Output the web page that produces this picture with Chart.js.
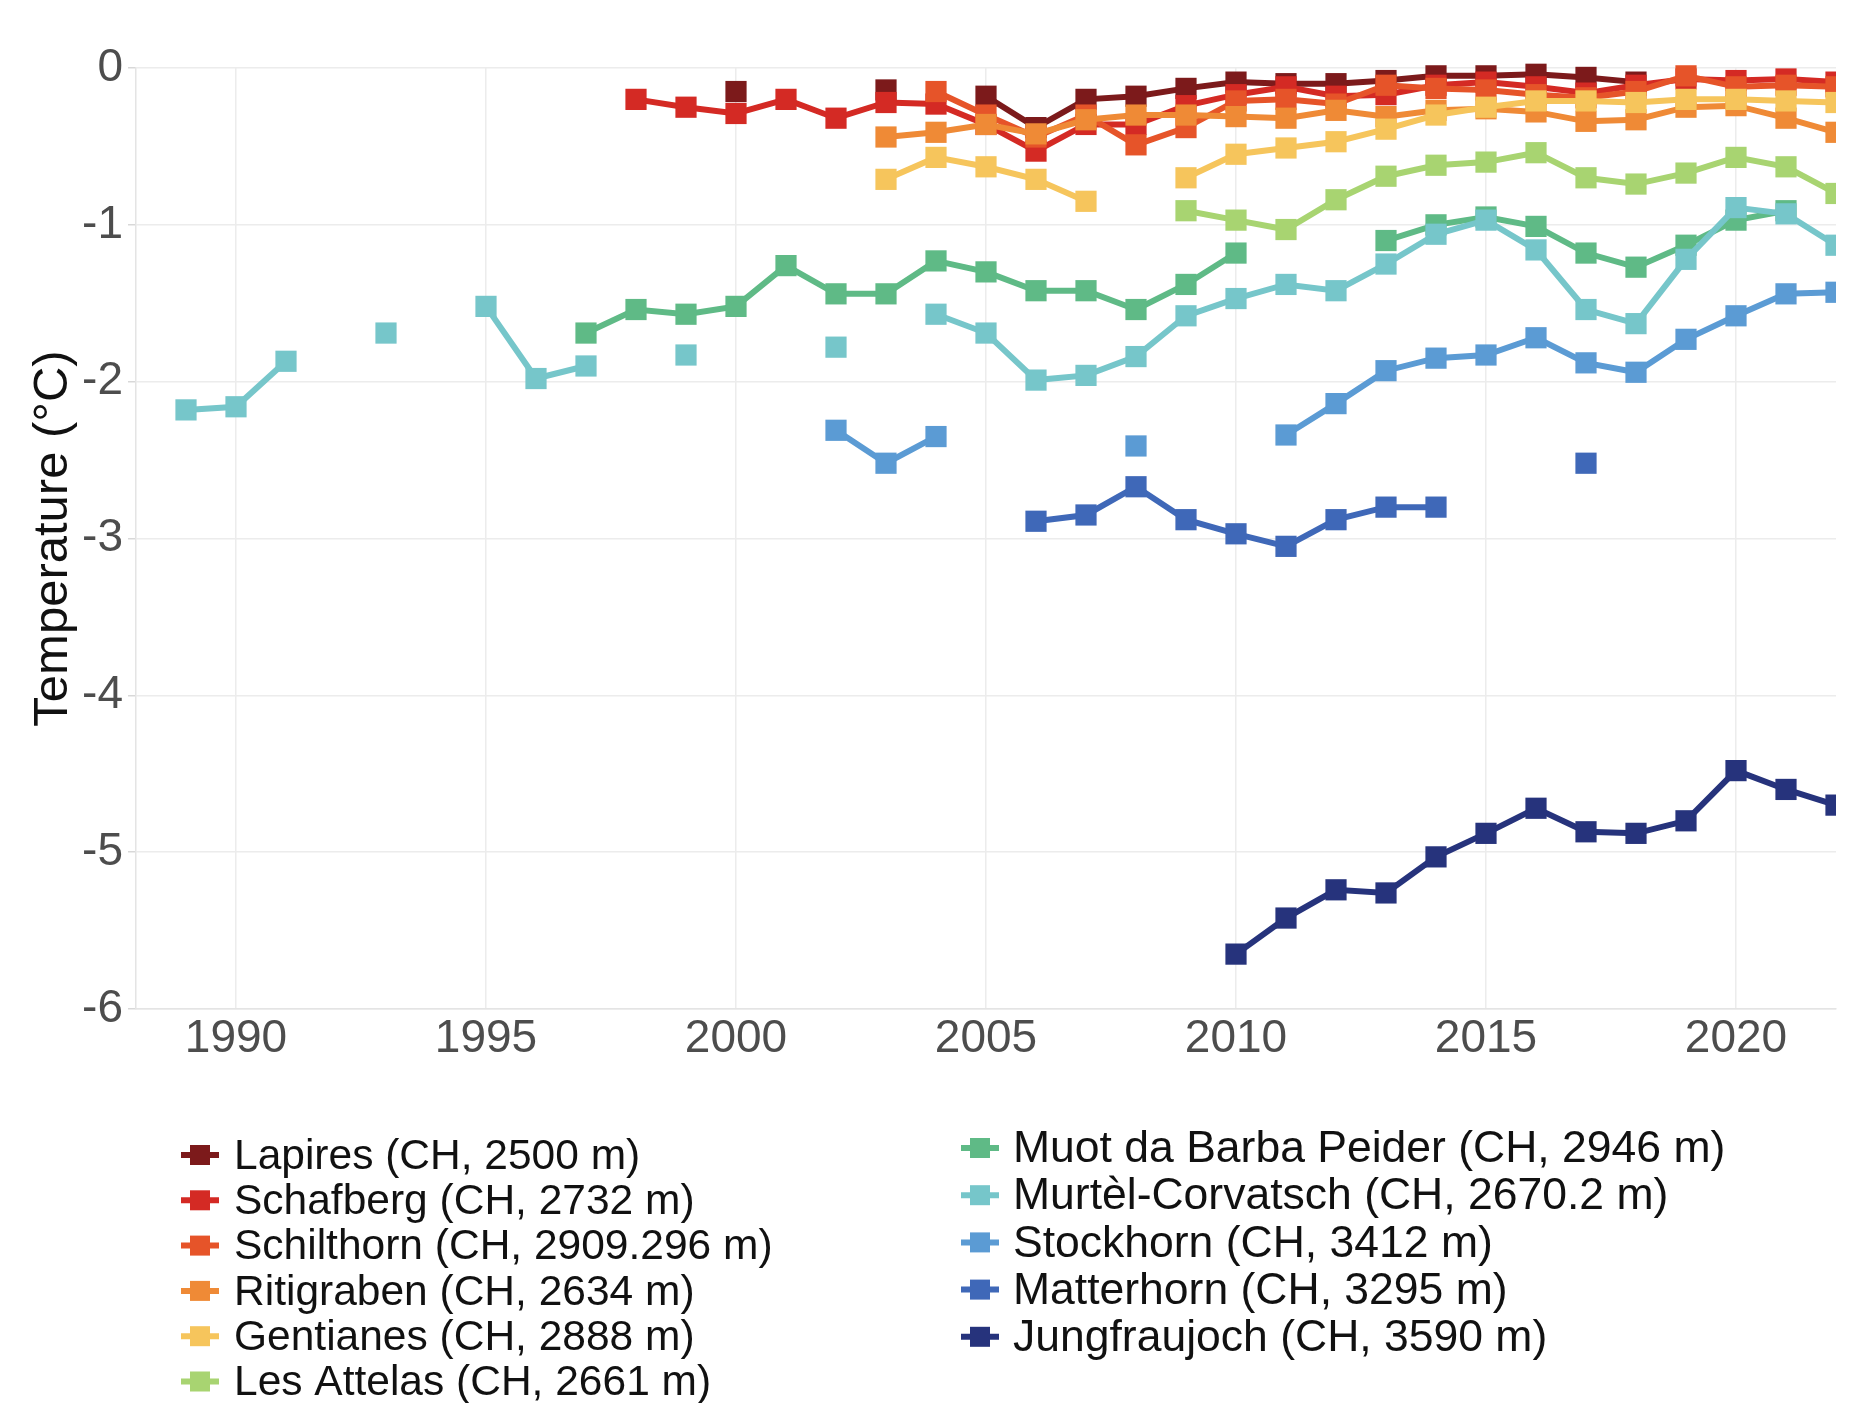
<!DOCTYPE html>
<html>
<head>
<meta charset="utf-8">
<script src="https://cdn.jsdelivr.net/npm/chart.js@4.4.1/dist/chart.umd.min.js"></script>
<style>
  html, body { margin: 0; padding: 0; background: #ffffff; }
  #wrap { width: 1851px; height: 1403px; position: relative; }
</style>
</head>
<body>
<div id="wrap"><canvas id="chart" width="1851" height="1403"></canvas></div>
<script>
// Mean annual permafrost temperature per borehole, one value per year (null = no data)
const years = [1989, 1990, 1991, 1992, 1993, 1994, 1995, 1996, 1997, 1998,
               1999, 2000, 2001, 2002, 2003, 2004, 2005, 2006, 2007, 2008,
               2009, 2010, 2011, 2012, 2013, 2014, 2015, 2016, 2017, 2018,
               2019, 2020, 2021, 2022];

const lapires = [null, null, null, null, null, null, null, null, null, null,
                 null, -0.15, null, null, -0.14, null, -0.18, -0.38, -0.20, -0.18,
                 -0.13, -0.09, -0.10, -0.10, -0.08, -0.05, -0.05, -0.04, -0.06, -0.09,
                 null, null, null, null];

const schafberg = [null, null, null, null, null, null, null, null, null, -0.20,
                   -0.25, -0.29, -0.20, -0.32, -0.22, -0.23, -0.36, -0.53, -0.36, -0.36,
                   -0.24, -0.17, -0.12, -0.18, -0.17, -0.11, -0.09, -0.12, -0.16, -0.11,
                   -0.07, -0.08, -0.07, -0.09];

const schilthorn = [null, null, null, null, null, null, null, null, null, null,
                    null, null, null, null, null, -0.15, -0.30, -0.44, -0.30, -0.49,
                    -0.38, -0.21, -0.20, -0.23, -0.11, -0.13, -0.14, -0.17, -0.19, -0.15,
                    -0.05, -0.12, -0.11, -0.12];

const ritigraben = [null, null, null, null, null, null, null, null, null, null,
                    null, null, null, null, -0.44, -0.41, -0.36, -0.42, -0.33, -0.30,
                    -0.30, -0.31, -0.32, -0.27, -0.31, -0.27, -0.26, -0.28, -0.34, -0.33,
                    -0.25, -0.24, -0.32, -0.41];

const gentianes = [null, null, null, null, null, null, null, null, null, null,
                   null, null, null, null, -0.71, -0.57, -0.63, -0.71, -0.85, null,
                   -0.70, -0.55, -0.51, -0.47, -0.39, -0.30, -0.25, -0.21, -0.21, -0.22,
                   -0.20, -0.20, -0.21, -0.22];

const lesAttelas = [null, null, null, null, null, null, null, null, null, null,
                    null, null, null, null, null, null, null, null, null, null,
                    -0.91, -0.97, -1.03, -0.84, -0.69, -0.62, -0.60, -0.54, -0.70, -0.74,
                    -0.67, -0.57, -0.63, -0.80];

const muotDaBarbaPeider = [null, null, null, null, null, null, null, null, -1.69, -1.54,
                           -1.57, -1.52, -1.26, -1.44, -1.44, -1.23, -1.30, -1.42, -1.42, -1.54,
                           -1.38, -1.18, null, null, -1.10, -1.00, -0.95, -1.01, -1.18, -1.27,
                           -1.13, -0.97, -0.91, null];

const murtelCorvatsch = [-2.18, -2.16, -1.87, null, -1.69, null, -1.52, -1.98, -1.90, null,
                         -1.83, null, null, -1.78, null, -1.57, -1.69, -1.99, -1.96, -1.84,
                         -1.58, -1.47, -1.38, -1.42, -1.25, -1.06, -0.97, -1.16, -1.54, -1.63,
                         -1.22, -0.89, -0.93, -1.13];

const stockhorn = [null, null, null, null, null, null, null, null, null, null,
                   null, null, null, -2.31, -2.52, -2.35, null, null, null, -2.41,
                   null, null, -2.34, -2.14, -1.93, -1.85, -1.83, -1.72, -1.88, -1.94,
                   -1.73, -1.58, -1.44, -1.43];

const matterhorn = [null, null, null, null, null, null, null, null, null, null,
                    null, null, null, null, null, null, null, -2.89, -2.85, -2.67,
                    -2.88, -2.97, -3.05, -2.88, -2.80, -2.80, null, null, -2.52, null,
                    null, null, null, null];

const jungfraujoch = [null, null, null, null, null, null, null, null, null, null,
                      null, null, null, null, null, null, null, null, null, null,
                      null, -5.65, -5.42, -5.24, -5.26, -5.03, -4.88, -4.72, -4.87, -4.88,
                      -4.80, -4.48, -4.60, -4.70];

const stationNames = [
  'Lapires (CH, 2500 m)',
  'Schafberg (CH, 2732 m)',
  'Schilthorn (CH, 2909.296 m)',
  'Ritigraben (CH, 2634 m)',
  'Gentianes (CH, 2888 m)',
  'Les Attelas (CH, 2661 m)',
  'Muot da Barba Peider (CH, 2946 m)',
  'Murtèl-Corvatsch (CH, 2670.2 m)',
  'Stockhorn (CH, 3412 m)',
  'Matterhorn (CH, 3295 m)',
  'Jungfraujoch (CH, 3590 m)'
];
const stationSeries = [lapires, schafberg, schilthorn, ritigraben, gentianes, lesAttelas,
                       muotDaBarbaPeider, murtelCorvatsch, stockhorn, matterhorn, jungfraujoch];
const stationColors = ['#7c1a1b', '#d42a24', '#e65429', '#ef8a36', '#f6c55c', '#a8d471',
                       '#5fba86', '#76c6ca', '#5b9bd4', '#3f68b8', '#26337c'];

const xTickYears = [1990, 1995, 2000, 2005, 2010, 2015, 2020];
const yTickValues = [0, -1, -2, -3, -4, -5, -6];

const FONT = '"Liberation Sans", Arial, Helvetica, sans-serif';

const datasets = stationSeries.map((vals, i) => ({
  label: stationNames[i],
  data: years.map((yr, k) => ({ x: yr, y: vals[k] })),
  borderColor: stationColors[i],
  backgroundColor: stationColors[i],
  pointBackgroundColor: stationColors[i],
  pointBorderColor: stationColors[i],
  borderWidth: 6,
  pointStyle: 'rect',
  pointRadius: 15,
  pointBorderWidth: 0,
  pointHoverRadius: 15,
  tension: 0,
  spanGaps: false,
  // later stations are painted over earlier ones
  order: stationSeries.length - i,
  clip: { left: 0, right: 0, top: 20, bottom: 0 }
}));

// two-column station key below the plot
const legendColumns = [
  { key: 200, text: 234, top: 1155, step: 45.3, from: 0, to: 6, size: 42.5 },
  { key: 980, text: 1013, top: 1148, step: 47.2, from: 6, to: 11, size: 44.5 }
];

const stationLegend = {
  id: 'stationLegend',
  afterDraw(chart) {
    const ctx = chart.ctx;
    ctx.save();
    ctx.textBaseline = 'middle';
    ctx.textAlign = 'left';
    legendColumns.forEach(col => {
      ctx.font = col.size + 'px ' + FONT;
      for (let i = col.from; i < col.to; i++) {
        const ds = chart.data.datasets[i];
        const y = col.top + (i - col.from) * col.step;
        ctx.strokeStyle = ds.borderColor;
        ctx.lineWidth = 6;
        ctx.beginPath();
        ctx.moveTo(col.key - 19, y);
        ctx.lineTo(col.key + 19, y);
        ctx.stroke();
        ctx.fillStyle = ds.borderColor;
        ctx.fillRect(col.key - 10, y - 10, 20, 20);
        ctx.fillStyle = '#111111';
        ctx.fillText(ds.label, col.text, y + 2);
      }
    });
    ctx.restore();
  }
};

new Chart(document.getElementById('chart'), {
  type: 'line',
  data: { datasets },
  options: {
    responsive: false,
    animation: false,
    events: [],
    layout: { padding: { top: 68, left: 0, right: 7, bottom: 334 } },
    plugins: {
      legend: { display: false },
      tooltip: { enabled: false }
    },
    scales: {
      x: {
        type: 'linear',
        min: 1988,
        max: 2022,
        afterFit(scale) { scale.height = 60; },
        afterBuildTicks(scale) { scale.ticks = xTickYears.map(v => ({ value: v })); },
        ticks: {
          includeBounds: false,
          autoSkip: false,
          maxRotation: 0,
          padding: 3,
          color: '#4d4d4d',
          font: { family: FONT, size: 46 },
          callback: v => String(v)
        },
        grid: { color: '#ececec', lineWidth: 1.5, drawTicks: false },
        border: { display: true, color: '#e4e4e4', width: 1.5 }
      },
      y: {
        type: 'linear',
        min: -6,
        max: 0,
        afterFit(scale) { scale.width = 136; },
        afterBuildTicks(scale) { scale.ticks = yTickValues.map(v => ({ value: v })); },
        ticks: {
          padding: 5,
          color: '#4d4d4d',
          font: { family: FONT, size: 46 },
          callback: v => String(v)
        },
        grid: { color: '#ececec', lineWidth: 1.5, tickLength: 8, tickColor: '#d8d8d8' },
        border: { display: true, color: '#e4e4e4', width: 1.5 },
        title: {
          display: true,
          text: 'Temperature (°C)',
          color: '#111111',
          font: { family: FONT, size: 49 },
          padding: { top: 24, bottom: 0 }
        }
      }
    }
  },
  plugins: [stationLegend]
});
</script>
</body>
</html>
